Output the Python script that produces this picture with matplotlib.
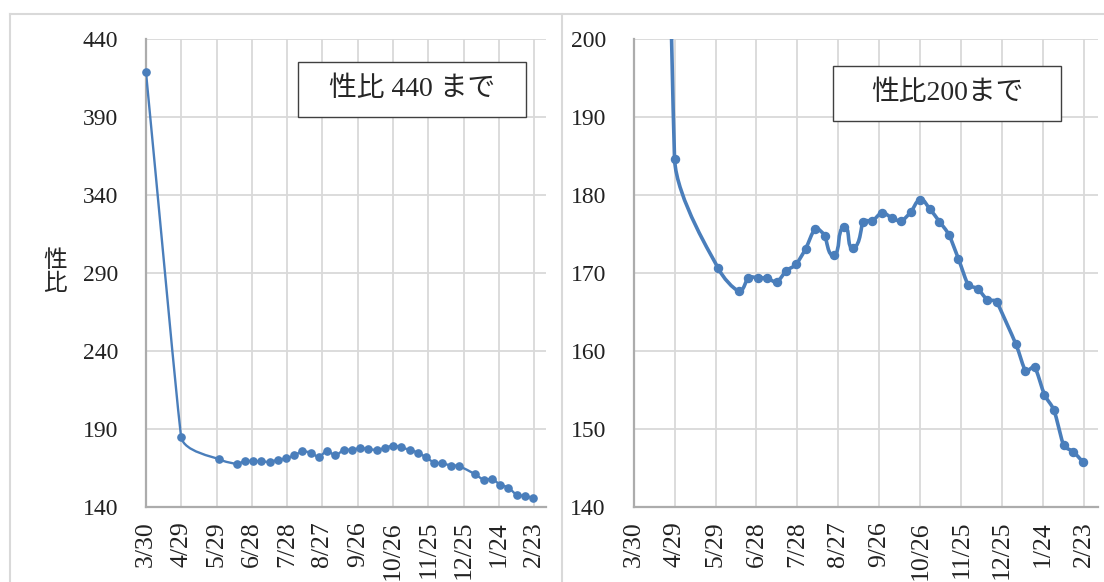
import numpy as np
import matplotlib
matplotlib.use('Agg')
import matplotlib.pyplot as plt
from matplotlib.path import Path
from matplotlib.patches import PathPatch, Rectangle
from matplotlib.lines import Line2D

# days counted from 3/30
days = [0, 30, 62, 77, 84, 91, 98, 105, 112, 119, 126, 133, 140, 147, 154, 161,
        168, 175, 182, 189, 196, 203, 210, 217, 224, 231, 238, 245, 252, 259, 266,
        280, 287, 294, 301, 308, 315, 322, 329]
ratio = [418.6, 184.6, 170.6, 167.7, 169.4, 169.4, 169.3, 168.9, 170.3, 171.1,
         173.1, 175.6, 174.8, 172.3, 175.9, 173.2, 176.6, 176.7, 177.7, 177.1,
         176.7, 177.8, 179.4, 178.2, 176.6, 174.9, 171.8, 168.5, 168.0, 166.6,
         166.3, 160.9, 157.5, 157.9, 154.4, 152.4, 147.9, 147.1, 145.8]

tick_days = [0, 30, 60, 90, 120, 150, 180, 210, 240, 270, 300, 330]
tick_labels = ['3/30', '4/29', '5/29', '6/28', '7/28', '8/27', '9/26',
               '10/26', '11/25', '12/25', '1/24', '2/23']

left_yticks = [140, 190, 240, 290, 340, 390, 440]
right_yticks = [140, 150, 160, 170, 180, 190, 200]

W, H = 1104, 582
blue = '#4A7EBB'
grid_c = '#D9D9D9'
num_font = 'Liberation Serif'
jp_font = ['Liberation Serif', 'Noto Sans CJK JP']

fig = plt.figure(figsize=(W / 100, H / 100), dpi=100)


def fx(x):
    return x / W


def fy(y):
    return 1 - y / H


def smooth_path(ax, xs, ys):
    # bezier curve through the points, like a smoothed excel line
    pts = ax.transData.transform(np.column_stack([xs, ys]))
    n = len(pts)
    seg = np.linalg.norm(np.diff(pts, axis=0), axis=1)
    unit = np.zeros_like(pts)
    size = np.zeros(n)
    for i in range(n):
        a = pts[max(i - 1, 0)]
        b = pts[min(i + 1, n - 1)]
        d = b - a
        unit[i] = d / np.linalg.norm(d)
        near = [seg[j] for j in (i - 1, i) if 0 <= j < n - 1]
        size[i] = min(near) / 3
    verts = [pts[0]]
    codes = [Path.MOVETO]
    for i in range(n - 1):
        verts.append(pts[i] + unit[i] * min(size[i], seg[i] / 3))
        verts.append(pts[i + 1] - unit[i + 1] * min(size[i + 1], seg[i] / 3))
        verts.append(pts[i + 1])
        codes += [Path.CURVE4] * 3
    verts = ax.transData.inverted().transform(np.array(verts))
    return Path(verts, codes)


def panel(x0, x1, ylim, yticks, lw, ms, clip, box, box_text):
    ax = fig.add_axes([fx(x0), fy(507), fx(x1) - fx(x0), (507 - 39) / H])
    ax.set_xlim(0, 340)
    ax.set_ylim(*ylim)
    ax.set_xticks(tick_days)
    ax.set_xticklabels(tick_labels, rotation=90, va='top', ha='center')
    ax.set_yticks(yticks)
    ax.tick_params(length=0, labelcolor='#222222')
    ax.tick_params(axis='x', pad=10, labelsize=18.5)
    ax.tick_params(axis='y', pad=20, labelsize=17)
    for lab in ax.get_xticklabels() + ax.get_yticklabels():
        lab.set_fontfamily(num_font)
    ax.grid(True, color=grid_c, lw=1.3)
    ax.set_axisbelow(True)
    for s in ['top', 'right']:
        ax.spines[s].set_visible(False)
    for s in ['left', 'bottom']:
        ax.spines[s].set_color('#ACACAC')
        ax.spines[s].set_linewidth(1.6)
        ax.spines[s].set_zorder(2.5)

    path = smooth_path(ax, days, ratio)
    ax.add_patch(PathPatch(path, facecolor='none', edgecolor=blue, lw=lw, zorder=3))
    ax.plot(days, ratio, 'o', color=blue, ms=ms, zorder=4, clip_on=clip)

    bx0, by0, bx1, by1 = box
    fig.add_artist(Rectangle((fx(bx0), fy(by1)), fx(bx1) - fx(bx0), (by1 - by0) / H,
                             transform=fig.transFigure, facecolor='white',
                             edgecolor='#404040', lw=1.0, zorder=5))
    fig.text(fx((bx0 + bx1) / 2), fy((by0 + by1) / 2), box_text, ha='center',
             va='center', fontsize=20, family=jp_font, color='#262626', zorder=6)
    return ax


panel(146, 546, (140, 440), left_yticks, 1.7, 5.2, False,
      (298, 62, 526, 117), '性比 440 まで')
panel(633.6, 1097.7, (140, 200), right_yticks, 2.6, 5.8, True,
      (833, 66, 1061, 121), '性比200まで')

fig.text(fx(55), fy(272), '性\n比', ha='center', va='center', fontsize=17,
         family=['Noto Sans CJK JP'], color='#262626', linespacing=1.05)

# chart frames
for xs, ys in [([9.5, W], [14, 14]), ([9.5, 9.5], [14, H]), ([561.7, 561.7], [14, H])]:
    fig.add_artist(Line2D([fx(v) for v in xs], [fy(v) for v in ys],
                          color=grid_c, lw=1.5, transform=fig.transFigure))

fig.savefig('out.png', dpi=100)
